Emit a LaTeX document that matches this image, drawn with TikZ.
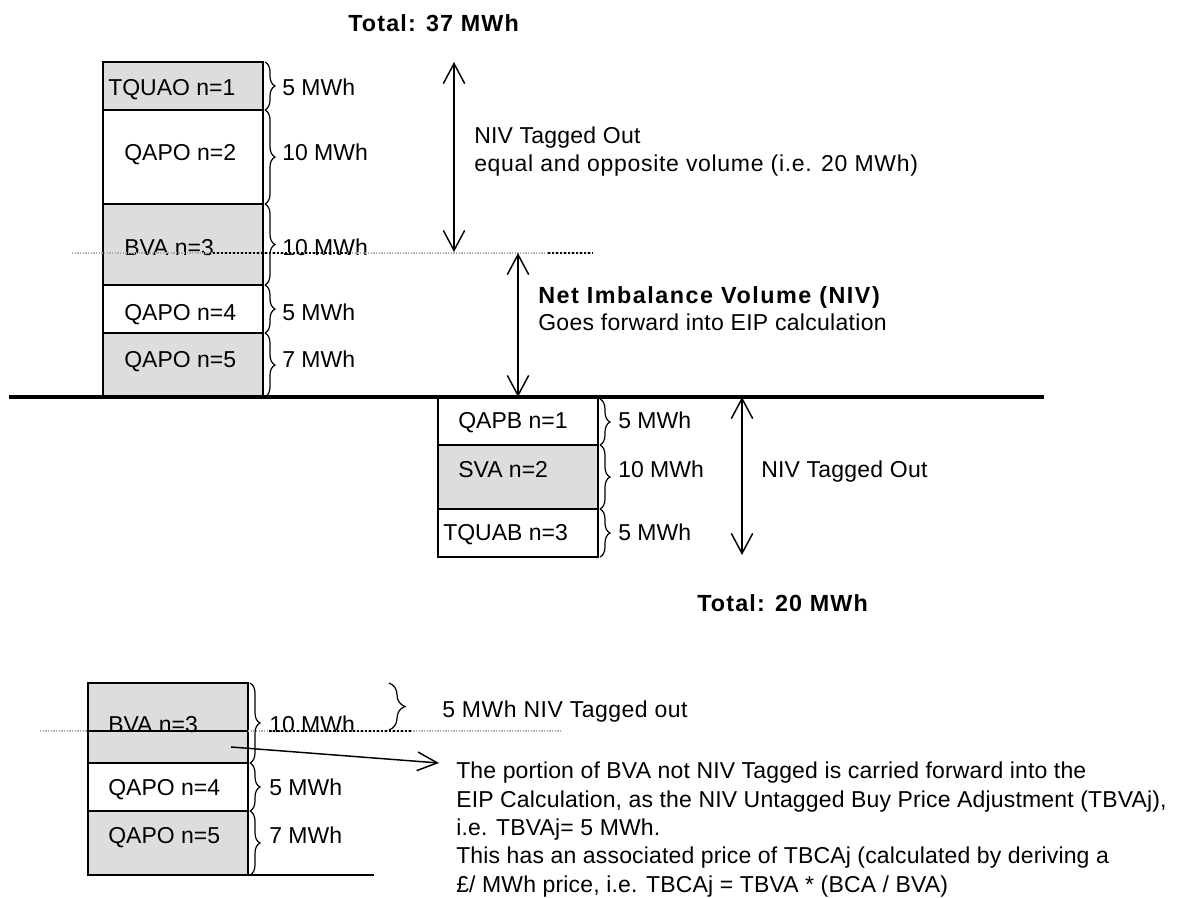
\documentclass[tikz,border=0pt]{standalone}
\usepackage{fontspec}
\setmainfont{Liberation Sans}
\usetikzlibrary{arrows.meta,decorations.pathreplacing}
\definecolor{boxgray}{RGB}{221,221,221}
\definecolor{dotgray}{RGB}{170,170,170}
\begin{document}
\begin{tikzpicture}[x=0.75pt,y=-0.75pt,
  lbl/.style={anchor=base west, inner sep=0pt, font=\fontsize{17.25}{20}\selectfont},
  txt/.style={anchor=base west, inner sep=0pt, font=\fontsize{17.25}{20}\selectfont\addfontfeature{LetterSpace=#1}},
  txt/.default=0.7,
  ttl/.style={anchor=base west, inner sep=0pt, font=\fontsize{17.5}{20}\selectfont\bfseries\addfontfeature{LetterSpace=#1}},
  ttl/.default=5,
  boxline/.style={draw=black, line width=1.1pt},
  graybox/.style={boxline, fill=boxgray},
  brc/.style={decorate, decoration={brace, amplitude=7.5pt}, line width=0.9pt},
  bigbrc/.style={decorate, decoration={brace, amplitude=12pt}, line width=0.9pt},
  dimarrow/.style={{Straight Barb[length=15pt,width=16pt]}-{Straight Barb[length=15pt,width=16pt]}, line width=1.1pt},
  onearrow/.style={-{Straight Barb[length=15pt,width=14pt]}, line width=1.1pt},
  dotlight/.style={draw=dotgray, line width=0.8pt, dash pattern=on 1pt off 1pt},
  dotdark/.style={draw=black, line width=0.9pt, dash pattern=on 1.5pt off 1.5pt},
  ground/.style={line width=3pt}
]
\useasboundingbox (0,0) rectangle (1178,897);

% ---------- top stack ----------
\draw[graybox] (103,62) rectangle (263,110);
\draw[boxline] (103,110) rectangle (263,204);
\draw[graybox] (103,204) rectangle (263,285);
\draw[boxline] (103,285) rectangle (263,333);
\draw[graybox] (103,333) rectangle (263,397);

\node[lbl] (t1) at (108,95) {TQUAO n=1};
\node[lbl] (t2) at (124,160) {QAPO n=2};
\node[lbl] (t3) at (124,255) {BVA n=3};
\node[lbl] (t4) at (124,320) {QAPO n=4};
\node[lbl] (t5) at (124,367) {QAPO n=5};

\draw[brc] (265,62) -- (265,110);
\draw[brc] (265,110) -- (265,204);
\draw[brc] (265,204) -- (265,285);
\draw[brc] (265,285) -- (265,333);
\draw[brc] (265,333) -- (265,397);

\node[lbl] (v1) at (282,95) {5 MWh};
\node[lbl] (v2) at (282,160) {10 MWh};
\node[lbl] (v3) at (282,255) {10 MWh};
\node[lbl] (v4) at (282,320) {5 MWh};
\node[lbl] (v5) at (282,367) {7 MWh};

% dotted level line (top)
\draw[dotlight] (72,253) -- (593,253);
\draw[dotdark] (213,253) -- (352,253);
\draw[dotdark] (548,253) -- (593,253);

% ground line
\draw[ground] (9,397) -- (1044,397);

% ---------- lower right stack ----------
\draw[boxline] (438,397) rectangle (598,445);
\draw[graybox] (438,445) rectangle (598,509);
\draw[boxline] (438,509) rectangle (598,557);
\draw[ground] (430,397) -- (610,397);

\node[lbl] (b1) at (458,428) {QAPB n=1};
\node[lbl] (b2) at (458,477) {SVA n=2};
\node[lbl] (b3) at (443,540) {TQUAB n=3};

\draw[brc] (600,399) -- (600,445);
\draw[brc] (600,445) -- (600,509);
\draw[brc] (600,509) -- (600,557);

\node[lbl] (w1) at (618,428) {5 MWh};
\node[lbl] (w2) at (618,477) {10 MWh};
\node[lbl] (w3) at (618,540) {5 MWh};

% ---------- arrows and texts ----------
\coordinate (a1t) at (454,62);
\coordinate (a1b) at (454,252);
\coordinate (a2t) at (518,253);
\coordinate (a2b) at (518,397);
\coordinate (a3t) at (742,397);
\coordinate (a3b) at (742,555);
\draw[dimarrow] (a1t) -- (a1b);
\draw[dimarrow] (a2t) -- (a2b);
\draw[dimarrow] (a3t) -- (a3b);

\node[ttl] (tot1) at (348,31) {Total: 37 MWh};
\node[txt=1] (nto1) at (474,143) {NIV Tagged Out};
\node[txt=3] (eq) at (474,171) {equal and opposite volume (i.e. 20 MWh)};
\node[ttl=6.5] (niv) at (538,303) {Net Imbalance Volume (NIV)};
\node[txt=1.3] (goes) at (538,330) {Goes forward into EIP calculation};
\node[txt=1] (nto2) at (761,477) {NIV Tagged Out};
\node[ttl] (tot2) at (697,611) {Total: 20 MWh};

% ---------- bottom stack ----------
\draw[graybox] (88,683) rectangle (248,763);
\draw[boxline] (88,763) rectangle (248,811);
\draw[graybox] (88,811) rectangle (248,875);
\draw[line width=1.1pt] (88,875) -- (374,875);
\draw[line width=1.1pt] (88,731) -- (248,731);

\node[lbl] (c1) at (108,732) {BVA n=3};
\node[lbl] (c2) at (108,795) {QAPO n=4};
\node[lbl] (c3) at (108,843) {QAPO n=5};

\draw[brc] (250,683) -- (250,763);
\draw[brc] (250,763) -- (250,811);
\draw[brc] (250,811) -- (250,875);

\node[lbl] (u1) at (269,732) {10 MWh};
\node[lbl] (u2) at (269,795) {5 MWh};
\node[lbl] (u3) at (269,843) {7 MWh};

\draw[dotlight] (40,731) -- (88,731);
\draw[dotlight] (248,731) -- (562,731);
\draw[dotdark] (269,731) -- (412,731);

\draw[bigbrc] (389,683) -- (389,730);
\node[txt=2.2] (tag) at (442,717) {5 MWh NIV Tagged out};

\coordinate (pa) at (231,747);
\coordinate (pb) at (439,763);
\draw[onearrow] (pa) -- (pb);

\node[txt] (p1) at (456,778) {The portion of BVA not NIV Tagged is carried forward into the};
\node[txt] (p2) at (456,807) {EIP Calculation, as the NIV Untagged Buy Price Adjustment (TBVAj),};
\node[txt] (p3) at (456,835) {i.e. TBVAj= 5 MWh.};
\node[txt] (p4) at (456,863) {This has an associated price of TBCAj (calculated by deriving a};
\node[txt] (p5) at (456,892) {£/ MWh price, i.e. TBCAj = TBVA * (BCA / BVA)};
\end{tikzpicture}
\end{document}
